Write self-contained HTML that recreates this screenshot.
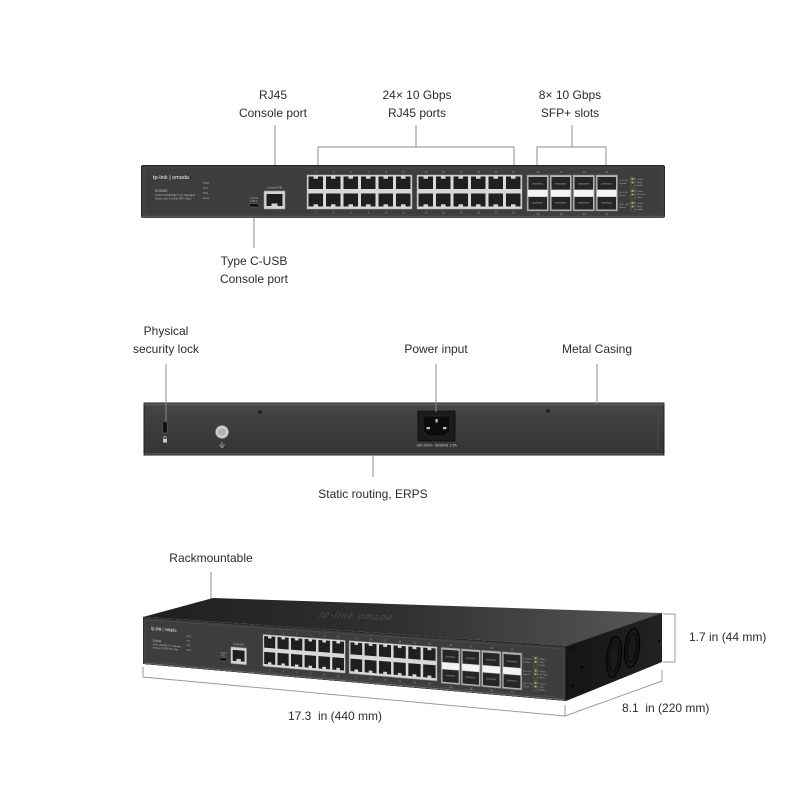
<!DOCTYPE html>
<html><head><meta charset="utf-8">
<style>
html,body{margin:0;padding:0;background:#fff;}
#wrap{position:relative;width:800px;height:800px;overflow:hidden;background:#fff;}
svg text{font-family:"Liberation Sans",Arial,sans-serif;}
.lbl{font-size:12px;fill:#2b2b2b;}
</style></head><body>
<div id="wrap">
<svg width="800" height="800" viewBox="0 0 800 800" style="position:absolute;left:0;top:0">
<defs>
  <linearGradient id="topg" gradientUnits="userSpaceOnUse" x1="143" y1="0" x2="662" y2="0">
    <stop offset="0" stop-color="#1f1f1f"/><stop offset="0.5" stop-color="#303030"/><stop offset="1" stop-color="#585858"/>
  </linearGradient>
  <linearGradient id="backg" x1="0" y1="0" x2="0" y2="1">
    <stop offset="0" stop-color="#6a6a6a"/><stop offset="0.06" stop-color="#444"/><stop offset="1" stop-color="#343434"/>
  </linearGradient>
  <linearGradient id="sideg" gradientUnits="userSpaceOnUse" x1="566" y1="0" x2="662" y2="0">
    <stop offset="0" stop-color="#151515"/><stop offset="1" stop-color="#222"/>
  </linearGradient>
  <g id="fp">
    <rect x="0.5" y="0.5" width="523" height="52" rx="1.5" fill="#3d3d3d" stroke="#262626"/>
    <rect x="3" y="3" width="518" height="47" fill="none" stroke="#4b4b4b" stroke-width="0.8"/>
    <line x1="1" y1="52" x2="523" y2="52" stroke="#707070" stroke-width="1"/>
    <text x="12" y="14" font-size="5.5" fill="#eee">tp-link | omada</text>
    <text x="14" y="27" font-size="3.5" fill="#ccc">SX3032</text>
    <text x="14" y="31" font-size="2.6" fill="#bbb">24-Port 10GBASE-T L2+ Managed</text>
    <text x="14" y="34.5" font-size="2.6" fill="#bbb">Switch with 8 10GE SFP+ Slots</text>
    <text x="62" y="19" font-size="2.5" fill="#aaa">PWR</text>
    <text x="62" y="24" font-size="2.5" fill="#aaa">SYS</text>
    <text x="62" y="29" font-size="2.5" fill="#aaa">FAN</text>
    <text x="62" y="34" font-size="2.5" fill="#aaa">Mode</text>
    <text x="113" y="34" font-size="2.3" fill="#aaa" text-anchor="middle">Console</text>
    <text x="113" y="37" font-size="2.3" fill="#aaa" text-anchor="middle">USB-C</text>
    <rect x="108" y="38.5" width="10" height="3.5" rx="1.7" fill="#111" stroke="#777" stroke-width="0.5"/>
    <text x="133.5" y="23.5" font-size="2.4" fill="#bbb" text-anchor="middle">Console RJ45</text>
    <rect x="123" y="26" width="21" height="18" fill="#d3d3d3" stroke="#999" stroke-width="0.5"/>
    <rect x="125.5" y="29" width="16" height="12" fill="#1e1e1e"/>
    <rect x="130.5" y="38.5" width="6" height="2.5" fill="#d3d3d3"/>
    <g id="blk">
      <rect x="166" y="10" width="105" height="34" fill="#d8d8d8" stroke="#a8a8a8" stroke-width="0.5"/>
      <g id="col">
        <rect x="167.5" y="11.5" width="14.5" height="12.5" fill="#1f1f1f"/>
        <rect x="172.5" y="11.5" width="4.5" height="2.2" fill="#d8d8d8"/>
        <rect x="167.5" y="28.5" width="14.5" height="13" fill="#1f1f1f"/>
        <rect x="172.5" y="39.3" width="4.5" height="2.2" fill="#d8d8d8"/>
      </g>
      <use href="#col" x="17.5"/><use href="#col" x="35"/><use href="#col" x="52.5"/><use href="#col" x="70"/><use href="#col" x="87.5"/>
    </g>
    <use href="#blk" x="110"/>
    <g font-size="2.8" fill="#9a9a9a" text-anchor="middle">
      <text x="175" y="8">1</text><text x="192.5" y="8">3</text><text x="210" y="8">5</text><text x="227.5" y="8">7</text><text x="245" y="8">9</text><text x="262.5" y="8">11</text>
      <text x="285" y="8">13</text><text x="302.5" y="8">15</text><text x="320" y="8">17</text><text x="337.5" y="8">19</text><text x="355" y="8">21</text><text x="372.5" y="8">23</text>
      <text x="175" y="48.5">2</text><text x="192.5" y="48.5">4</text><text x="210" y="48.5">6</text><text x="227.5" y="48.5">8</text><text x="245" y="48.5">10</text><text x="262.5" y="48.5">12</text>
      <text x="285" y="48.5">14</text><text x="302.5" y="48.5">16</text><text x="320" y="48.5">18</text><text x="337.5" y="48.5">20</text><text x="355" y="48.5">22</text><text x="372.5" y="48.5">24</text>
      <text x="397" y="8">25</text><text x="420" y="8">27</text><text x="443" y="8">29</text><text x="466" y="8">31</text>
      <text x="397" y="50">26</text><text x="420" y="50">28</text><text x="443" y="50">30</text><text x="466" y="50">32</text>
    </g>
    <g id="sfp">
      <rect x="386" y="10" width="21.5" height="36" fill="#b5b5b5" stroke="#858585" stroke-width="0.5"/>
      <rect x="387.5" y="12" width="18.5" height="12.5" fill="#262626"/>
      <rect x="391" y="18" width="11" height="1.6" fill="#555"/>
      <rect x="387" y="25" width="19.5" height="6.5" fill="#f4f4f4"/>
      <rect x="387.5" y="32" width="18.5" height="12.5" fill="#262626"/>
      <rect x="391" y="37" width="11" height="1.6" fill="#555"/>
    </g>
    <use href="#sfp" x="23"/><use href="#sfp" x="46"/><use href="#sfp" x="69"/>
    <g font-size="2.2" fill="#aaa">
      <text x="478" y="16">Port LED</text><text x="478" y="19">Link/Act</text>
      <text x="478" y="28">Port LED</text><text x="478" y="31">Speed</text>
      <text x="478" y="40">SFP+ LED</text><text x="478" y="43">Speed</text>
      <text x="494" y="15">10 Gbps</text><text x="494" y="18">1 Gbps</text><text x="494" y="21">Link/Act</text>
      <text x="494" y="27">10 Gbps</text><text x="494" y="30">2.5/5 Gbps</text><text x="494" y="33">1 Gbps</text>
      <text x="494" y="39">10 Gbps</text><text x="494" y="42">1 Gbps</text><text x="494" y="45">Link/Act</text>
    </g>
    <g fill="#9bc53d">
      <rect x="490.5" y="13" width="2" height="2"/><rect x="490.5" y="16.5" width="2" height="2"/>
      <rect x="490.5" y="25" width="2" height="2"/><rect x="490.5" y="28.5" width="2" height="2"/>
      <rect x="490.5" y="37" width="2" height="2"/><rect x="490.5" y="40.5" width="2" height="2"/>
    </g>
    <g stroke="#777" stroke-width="0.4" fill="none">
      <rect x="489.5" y="12" width="4" height="10"/><rect x="489.5" y="24" width="4" height="10"/><rect x="489.5" y="36" width="4" height="10"/>
    </g>
  </g>
</defs>

<text class="lbl" x="273" y="99" text-anchor="middle">RJ45</text>
<text class="lbl" x="273" y="117" text-anchor="middle">Console port</text>
<text class="lbl" x="417" y="99" text-anchor="middle">24× 10 Gbps</text>
<text class="lbl" x="417" y="117" text-anchor="middle">RJ45 ports</text>
<text class="lbl" x="570" y="99" text-anchor="middle">8× 10 Gbps</text>
<text class="lbl" x="570" y="117" text-anchor="middle">SFP+ slots</text>

<g stroke="#8c8c8c" stroke-width="1" fill="none">
  <line x1="275" y1="125" x2="275" y2="194"/>
  <line x1="416" y1="125" x2="416" y2="147"/>
  <polyline points="318,172 318,147 514,147 514,172"/>
  <line x1="572" y1="125" x2="572" y2="147"/>
  <polyline points="537,172 537,147 606,147 606,172"/>
  <line x1="254" y1="207" x2="254" y2="248"/>
</g>

<use href="#fp" x="141" y="165"/>

<text class="lbl" x="254" y="265" text-anchor="middle">Type C-USB</text>
<text class="lbl" x="254" y="283" text-anchor="middle">Console port</text>

<text class="lbl" x="166" y="335" text-anchor="middle">Physical</text>
<text class="lbl" x="166" y="353" text-anchor="middle">security lock</text>
<text class="lbl" x="436" y="353" text-anchor="middle">Power input</text>
<text class="lbl" x="597" y="353" text-anchor="middle">Metal Casing</text>

<rect x="144" y="403" width="520" height="52" fill="url(#backg)" stroke="#222" stroke-width="1"/>
<polyline points="150,410 658,410 658,450" fill="none" stroke="#4c4c4c" stroke-width="1"/>
<line x1="145" y1="454" x2="663" y2="454" stroke="#666" stroke-width="1"/>
<circle cx="260" cy="412" r="2.5" fill="#222" stroke="#555" stroke-width="0.5"/>
<circle cx="548" cy="411" r="2.5" fill="#222" stroke="#555" stroke-width="0.5"/>
<rect x="162.5" y="422" width="5" height="11" rx="1" fill="#111" stroke="#666" stroke-width="0.6"/>
<rect x="163" y="439" width="4" height="3.5" fill="#ccc"/>
<path d="M163.8 439 v-1.3 a1.2 1.2 0 0 1 2.4 0 v1.3" fill="none" stroke="#ccc" stroke-width="0.7"/>
<circle cx="222" cy="432" r="6.5" fill="#cfcfcf" stroke="#888" stroke-width="0.6"/>
<circle cx="222" cy="432" r="4" fill="#b3b3b3"/>
<g stroke="#bbb" stroke-width="0.6"><line x1="222" y1="442" x2="222" y2="445"/><line x1="219" y1="445" x2="225" y2="445"/><line x1="220" y1="446.3" x2="224" y2="446.3"/><line x1="221" y1="447.5" x2="223" y2="447.5"/></g>
<rect x="418" y="411" width="37" height="30" fill="#1b1b1b" stroke="#111"/>
<polygon points="423,416 450,416 450,431 445,436 428,436 423,431" fill="#0c0c0c" stroke="#333" stroke-width="0.6"/>
<rect x="426.5" y="427" width="3.5" height="2.2" fill="#bbb"/>
<rect x="443" y="427" width="3.5" height="2.2" fill="#bbb"/>
<rect x="435.5" y="419" width="2.2" height="3.5" fill="#bbb"/>
<text x="436.5" y="446.5" font-size="3.6" fill="#ccc" text-anchor="middle">100-240V~ 50/60Hz 1.5A</text>

<g stroke="#8c8c8c" stroke-width="1">
  <line x1="166" y1="364" x2="166" y2="421"/>
  <line x1="436" y1="364" x2="436" y2="412"/>
  <line x1="597" y1="364" x2="597" y2="404"/>
  <line x1="373" y1="455" x2="373" y2="477"/>
</g>
<text class="lbl" x="373" y="498" text-anchor="middle">Static routing, ERPS</text>

<text class="lbl" x="211" y="562" text-anchor="middle">Rackmountable</text>
<line x1="211" y1="572" x2="211" y2="600" stroke="#8c8c8c" stroke-width="1"/>

<polygon points="143,617 213,598 662,613 566,646" fill="url(#topg)"/>
<text x="0" y="0" font-size="9" fill="#5a5a5a" letter-spacing="1.5" opacity="0.8" transform="translate(318,617) rotate(2.6) skewX(-35)">tp-link  omada</text>
<polygon points="566,646 662,613 662,662 566,701" fill="url(#sideg)"/>
<line x1="566" y1="646" x2="662" y2="613" stroke="#444" stroke-width="0.8"/>
<polygon points="143,617 566,646 566,701 143,664" fill="#3d3d3d"/>
<line x1="143" y1="617" x2="566" y2="646" stroke="#5c5c5c" stroke-width="0.8"/>
<g fill="#050505">
  <circle cx="573" cy="648" r="1.3"/><circle cx="582" cy="667" r="1.3"/><circle cx="573" cy="686" r="1.3"/><circle cx="659" cy="641" r="1.1"/>
</g>
<g fill="none">
  <ellipse cx="614" cy="657" rx="7" ry="20.5" transform="rotate(6 614 657)" fill="#1a1a1a" stroke="#080808" stroke-width="1.8"/>
  <ellipse cx="614" cy="657" rx="4.5" ry="15" transform="rotate(6 614 657)" stroke="#0a0a0a" stroke-width="1.2"/>
  <ellipse cx="632" cy="648" rx="7" ry="19.5" transform="rotate(6 632 648)" fill="#1a1a1a" stroke="#080808" stroke-width="1.8"/>
  <ellipse cx="632" cy="648" rx="4.5" ry="14" transform="rotate(6 632 648)" stroke="#0a0a0a" stroke-width="1.2"/>
</g>

<g stroke="#9a9a9a" stroke-width="1" fill="none">
  <polyline points="143,667 143,677 565,716 565,705"/>
  <polyline points="565,716 662,681 662,670"/>
  <polyline points="663,614 675,614 675,662 663,662"/>
</g>
<text class="lbl" x="689" y="641">1.7 in (44 mm)</text>
<text class="lbl" x="335" y="720" text-anchor="middle">17.3&#160; in (440 mm)</text>
<text class="lbl" x="622" y="712">8.1&#160; in (220 mm)</text>
</svg>

<div style="position:absolute;left:0;top:0;width:524px;height:53px;transform-origin:0 0;transform:matrix3d(0.650139,-0.123975,0,-0.00027758,0,0.886792,0,0,0,0,1,0,143,617,0,1);">
<svg width="524" height="53" viewBox="0 0 524 53" style="display:block"><use href="#fp"/></svg>
</div>
</div>
</body></html>
